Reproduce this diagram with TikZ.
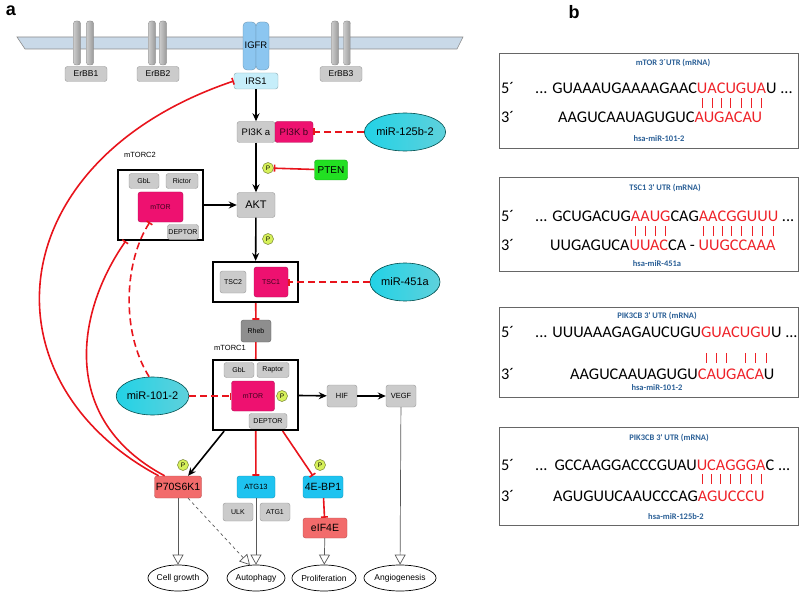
\documentclass[tikz,border=0pt]{standalone}
\usepackage{fontspec}
\setmainfont{Liberation Sans}
\newfontfamily\seqfont{Carlito}
\usetikzlibrary{arrows.meta,shapes.geometric,positioning}

\definecolor{boxgray}{HTML}{CBCBCB}
\definecolor{rhebgray}{HTML}{8E8E8E}
\definecolor{magent}{HTML}{EE1170}
\definecolor{cyanbox}{HTML}{1EC3F0}
\definecolor{salmon}{HTML}{F26B6B}
\definecolor{ptengreen}{HTML}{22E022}
\definecolor{mircyan}{HTML}{22D2E6}
\definecolor{pgreen}{HTML}{D6F05A}
\definecolor{inhred}{HTML}{E8141C}
\definecolor{memfill}{HTML}{C9D9E8}
\definecolor{igfrblue}{HTML}{8CC6F0}
\definecolor{irscyan}{HTML}{C6EEFA}
\definecolor{seqred}{HTML}{EE2228}
\definecolor{ttlblue}{HTML}{2A5F96}

\newcommand\fs[1]{\fontsize{#1}{#1}\selectfont}
\newcommand\rd[1]{\textcolor{seqred}{#1}}
\newcommand\pr[2][4pt]{\setbox0=\hbox{#2}\rlap{\hbox to\wd0{\hss\color{seqred}\vrule height -#1 depth \dimexpr #1+10pt\relax width 0.6pt\hss}}\textcolor{seqred}{#2}}

\begin{document}
\begin{tikzpicture}[x=1pt,y=-1pt,
  box/.style={rounded corners=2.5pt,line width=0.4pt,inner sep=1pt,minimum height=15pt,font=\fs{7}},
  gbox/.style={box,fill=boxgray,draw=boxgray!75!black},
  mbox/.style={box,fill=magent,draw=magent!75!black,text=black!75!magent},
  cbox/.style={box,fill=cyanbox,draw=cyanbox!75!black},
  sbox/.style={box,fill=salmon,draw=salmon!75!black},
  cplx/.style={draw,line width=2.2pt,minimum width=85pt,minimum height=70pt,inner sep=0pt},
  cplxlbl/.style={font=\fs{7.5}},
  mir/.style={ellipse,draw=teal!60!black,line width=0.6pt,left color=mircyan,right color=mircyan!75!teal!70!white,minimum width=70pt,minimum height=38pt,inner sep=0pt,font=\fs{11}},
  pc/.style={circle,fill=pgreen,draw=pgreen!55!black,line width=0.5pt,minimum size=11pt,inner sep=0pt,font=\fs{6.5}},
  fate/.style={ellipse,draw,line width=0.7pt,fill=white,minimum width=60pt,minimum height=26pt,inner sep=0pt,font=\fs{8.5}},
  act/.style={line width=1.6pt,-{Stealth[length=8pt,width=7pt]}},
  inh/.style={inhred,line width=1.6pt,-{Bar[width=7pt]}},
  inhd/.style={inh,dash pattern=on 7pt off 4pt},
  outc/.style={black!65,line width=0.7pt,-{Triangle[open,length=10pt,width=11pt,fill=white]}},
  frame/.style={draw=black!60,line width=0.9pt,inner sep=0pt},
  seq/.style={font=\seqfont\fs{16.3},inner sep=0pt,anchor=base west},
  ttl/.style={font=\seqfont\bfseries\fs{8.5},text=ttlblue,inner sep=0pt},
]
\useasboundingbox (0,0) rectangle (800,596);

\node[font=\bfseries\fs{18}] (lbla) at (11,11) {a};
\node[font=\bfseries\fs{18}] (lblb) at (574,12) {b};

% membrane and receptors
\filldraw[fill=memfill,draw=black!45,line width=0.6pt] (17,37) -- (463,37) -- (457,49) -- (25,49) -- cycle;
\foreach \x in {77,90,152,163,335,347}
  \draw[rounded corners=2.5pt,draw=black!50,line width=0.3pt,left color=gray!40,right color=gray!80] (\x-3.5,21) rectangle (\x+3.5,65);
\node[gbox,minimum width=42pt,font=\fs{8.5}] (erbb1) at (86,74) {ErBB1};
\node[gbox,minimum width=42pt,font=\fs{8.5}] (erbb2) at (158,74) {ErBB2};
\node[gbox,minimum width=42pt,font=\fs{8.5}] (erbb3) at (341,74) {ErBB3};
\draw[rounded corners=4pt,fill=igfrblue,draw=igfrblue!70!black,line width=0.3pt] (243,22) rectangle (256,70);
\draw[rounded corners=4pt,fill=igfrblue,draw=igfrblue!70!black,line width=0.3pt] (256,22) rectangle (269,70);
\node[font=\fs{9.5}] (igfr) at (256,45) {IGFR};
\node[box,fill=irscyan,draw=irscyan!70!black,minimum width=44pt,minimum height=16pt,font=\fs{9.5}] (irs) at (256,81) {IRS1};

% PI3K / AKT / mTORC2
\node[gbox,minimum width=38pt,minimum height=21pt,font=\fs{9.5}] (pika) at (256,132) {PI3K a};
\node[mbox,minimum width=38pt,minimum height=21pt,font=\fs{9.5}] (pikb) at (294,132) {PI3K b};
\node[mir] (mir125) at (405,132) {miR-125b-2};
\node[box,fill=ptengreen,draw=ptengreen!70!black,minimum width=33pt,minimum height=20pt,font=\fs{10}] (pten) at (331,170) {PTEN};
\node[pc] (p1) at (268,168) {P};
\node[gbox,minimum width=38pt,minimum height=25pt,font=\fs{11}] (akt) at (256,205) {AKT};
\node[pc] (p2) at (268,239) {P};

\node[cplxlbl] (lbl2) at (140,155) {mTORC2};
\node[cplx] (tc2) at (160.5,205) {};
\node[gbox,minimum width=30pt] (gbl2) at (144,181) {GbL};
\node[gbox,minimum width=32pt] (rictor) at (182,181) {Rictor};
\node[mbox,minimum width=45pt,minimum height=30pt] (mtor2) at (160.5,207) {mTOR};
\node[gbox,minimum width=30pt] (dep2) at (183,232) {DEPTOR};

% TSC / Rheb
\node[cplx,minimum height=40pt] (tsc) at (255.5,282) {};
\node[gbox,minimum width=26pt,minimum height=22pt] (tsc2) at (233,282) {TSC2};
\node[mbox,minimum width=34pt,minimum height=30pt] (tsc1) at (271,282) {TSC1};
\node[mir] (mir451) at (405,282) {miR-451a};
\node[box,fill=rhebgray,draw=rhebgray!70!black,minimum width=30pt,minimum height=22pt] (rheb) at (256,331) {Rheb};

% mTORC1
\node[cplxlbl] (lbl1) at (230,348) {mTORC1};
\node[cplx] (tc1) at (255.5,395) {};
\node[gbox,minimum width=30pt] (gbl1) at (239,370) {GbL};
\node[gbox,minimum width=32pt] (raptor) at (273,370) {Raptor};
\node[mbox,minimum width=43pt,minimum height=30pt] (mtor1) at (253,396) {mTOR};
\node[pc] (p3) at (282,396) {P};
\node[gbox,minimum width=38pt] (dep1) at (268,421) {DEPTOR};
\node[mir] (mir101) at (152.5,396) {miR-101-2};
\node[gbox,minimum width=30pt,minimum height=22pt,font=\fs{7.5}] (hif) at (342,396) {HIF};
\node[gbox,minimum width=30pt,minimum height=22pt,font=\fs{7.5}] (vegf) at (401,396) {VEGF};

% downstream
\node[sbox,minimum width=47pt,minimum height=22pt,font=\fs{10.5}] (p70) at (178,487) {P70S6K1};
\node[pc] (p4) at (183,465) {P};
\node[cbox,minimum width=38pt,minimum height=22pt,font=\fs{7.5}] (atg13) at (256,487) {ATG13};
\node[gbox,minimum width=30pt,minimum height=18pt] (ulk) at (238,512) {ULK};
\node[gbox,minimum width=30pt,minimum height=18pt] (atg1) at (275,512) {ATG1};
\node[cbox,minimum width=40pt,minimum height=22pt,font=\fs{10.5}] (bp) at (323,487) {4E-BP1};
\node[pc] (p5) at (320,465) {P};
\node[sbox,minimum width=44pt,minimum height=20pt,font=\fs{10.5}] (eif) at (325,528) {eIF4E};

\node[fate,minimum width=57pt] (cg) at (178,578) {Cell growth};
\node[fate,minimum width=58pt] (aut) at (256,578) {Autophagy};
\node[fate,minimum width=58pt] (pro) at (324,578) {Proliferation};
\node[fate,minimum width=63pt] (ang) at (400,578) {Angiogenesis};

% connectors
\draw[act] (irs) -- (pika);
\draw[act] (pika) -- (akt);
\draw[act] (tc2) -- (akt);
\draw[act] (akt) -- (tsc);
\draw[inh] (pten) -- (p1);
\draw[inhd] (mir125) -- (pikb);
\draw[inhd] (mir451) -- (tsc1);
\draw[inh] (tsc) -- (rheb);
\draw[inhred,line width=1.6pt] (rheb) -- (tc1);
\draw[inhd] (mir101) -- (mtor1);
\draw[act] (tc1) -- (hif);
\draw[act] (hif) -- (vegf);
\draw[act] (tc1.-131) -- (p70.48);
\draw[inh] (tc1) -- (atg13);
\draw[inh] (tc1.-53) -- (bp.132);
\draw[inh] (bp) -- (eif);
\draw[inh] (p70.150) .. controls (-20,380) and (0,160) .. (irs.west);
\draw[inh] (p70.140) .. controls (60,420) and (75,314) .. (tc2.-134);
\draw[inhd] (mir101.100) .. controls (120,330) and (125,260) .. (mtor2.-125);
\draw[outc] (p70) -- (cg);
\draw[outc] (atg13) -- (aut);
\draw[outc,dashed] (p70.-48) -- (aut.115);
\draw[outc] (eif) -- (pro);
\draw[outc] (vegf) -- (ang);

% panel b
\node[frame,minimum width=299pt,minimum height=95pt] (fr1) at (648.5,100.5) {};
\node[ttl] (t1) at (673,63) {mTOR 3´UTR (mRNA)};
\node[seq] (f1) at (501,94) {5´};
\node[seq] (f1b) at (501,123) {3´};
\node[seq] (s1a) at (535,94) {... GUAAAUGAAAAGAAC\pr{U}\pr{A}\pr{C}\pr{U}\pr{G}\pr{U}\pr{A}U ...};
\node[seq] (s1b) at (558,123) {AAGUCAAUAGUGUC\rd{AUGACAU}};
\node[ttl] (m1) at (659,139) {hsa-miR-101-2};

\node[frame,minimum width=299pt,minimum height=94pt] (fr2) at (648.5,224) {};
\node[ttl] (t2) at (665,188) {TSC1 3' UTR (mRNA)};
\node[seq] (f2) at (501,222) {5´};
\node[seq] (f2b) at (501,250) {3´};
\node[seq] (s2a) at (535,222) {... GCUGACUG\pr{A}\pr{A}\pr{U}\pr{G}CAG\pr{A}\pr{A}\pr{C}\pr{G}\pr{G}\pr{U}\pr{U}\pr{U} ...};
\node[seq] (s2b) at (550,250) {UUGAGUCA\rd{UUAC}CA - \rd{UUGCCAAA}};
\node[ttl] (m2) at (657,264) {hsa-miR-451a};

\node[frame,minimum width=299pt,minimum height=90pt] (fr3) at (648.5,352) {};
\node[ttl] (t3) at (657,316) {PIK3CB 3' UTR (mRNA)};
\node[seq] (f3) at (501,337) {5´};
\node[seq] (f3b) at (501,379) {3´};
\node[seq] (s3a) at (535,337) {... UUUAAAGAGAUCUGU\pr[16pt]{G}\pr[16pt]{U}\pr[16pt]{A}\rd{C}\pr[16pt]{U}\pr[16pt]{G}\pr[16pt]{U}U ...};
\node[seq] (s3b) at (570,379) {AAGUCAAUAGUGU\rd{CAUGACA}U};
\node[ttl] (m3) at (657,388) {hsa-miR-101-2};

\node[frame,minimum width=299pt,minimum height=98pt] (fr4) at (648.5,476) {};
\node[ttl] (t4) at (669,438) {PIK3CB 3' UTR (mRNA)};
\node[seq] (f4) at (501,470) {5´};
\node[seq] (f4b) at (501,501) {3´};
\node[seq] (s4a) at (535,470) {...\hspace{7pt}GCCAAGGACCCGUAU\pr{U}\pr{C}\pr{A}\pr{G}\pr{G}\pr{G}\pr{A}C ...};
\node[seq] (s4b) at (553,501) {AGUGUUCAAUCCCAG\rd{AGUCCCU}};
\node[ttl] (m4) at (676,517) {hsa-miR-125b-2};
\end{tikzpicture}
\end{document}
